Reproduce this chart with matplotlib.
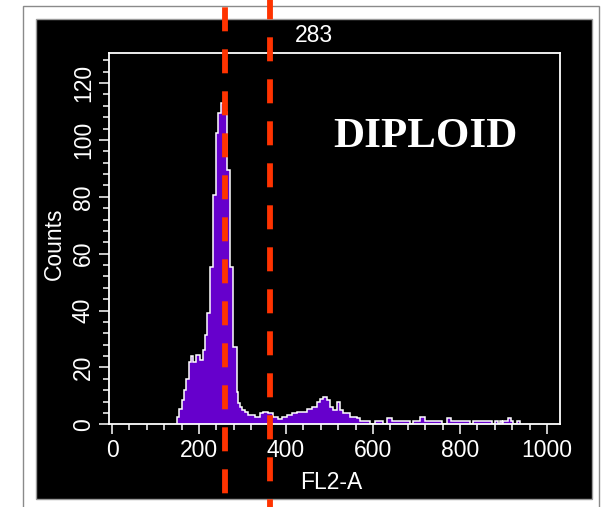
import matplotlib
matplotlib.use("Agg")
import matplotlib.pyplot as plt
from matplotlib.patches import Rectangle
from matplotlib.ticker import MultipleLocator

# ---- data ----
fl2_edges = [150, 155, 160, 166, 171, 176, 181, 187, 193, 202,
             209, 214, 218, 225, 233, 238, 244, 250, 258, 265,
             271, 279, 287, 290, 294, 298, 306, 313, 329, 340,
             348, 359, 371, 382, 390, 402, 413, 425, 436, 448,
             459, 471, 478, 486, 494, 501, 509, 517, 524, 532,
             547, 563, 570, 593, 605, 624, 632, 643, 686, 693,
             709, 720, 758, 770, 780, 823, 831, 873, 881, 888,
             892, 896, 900, 910, 918, 923, 931, 938]
counts = [2.5, 5.5, 8.5, 12, 16, 22, 24, 22, 24.5, 22.5,
          26, 31.4, 39, 55.5, 80.7, 102.5, 109.5, 113, 110, 89.5,
          55.5, 27.3, 11.5, 7.5, 6.2, 5, 4.4, 3.3, 2.7, 4,
          4.4, 4, 2.7, 1.8, 2.7, 3.3, 4, 4.4, 4.2, 5.3,
          6.2, 7.9, 9, 9.6, 8.5, 6.2, 5, 8, 5, 4,
          2.7, 2.2, 1.3, 0, 1, 0, 2.2, 1.3, 0, 1.3,
          2.5, 1.3, 0, 2.2, 1.3, 0, 1.3, 0, 1.3, 0,
          1.3, 0, 1.3, 2.2, 1.3, 0, 1.3]
gate_lines = [259, 363]
x_ticks = [0, 200, 400, 600, 800, 1000]
y_ticks = [0, 20, 40, 60, 80, 100, 120]
title_text = "283"
label_text = "DIPLOID"
x_label = "FL2-A"
y_label = "Counts"

W, H = 605, 507
plt.rcParams['lines.scale_dashes'] = False
plt.rcParams['font.family'] = ['Liberation Sans', 'DejaVu Sans']

fig = plt.figure(figsize=(W / 100, H / 100), dpi=100)
fig.patch.set_facecolor('white')

def px_rect(x0, y0, x1, y1, **kw):
    r = Rectangle((x0 / W, 1 - y1 / H), (x1 - x0) / W, (y1 - y0) / H,
                  transform=fig.transFigure, **kw)
    fig.add_artist(r)

# outer frame and black panel
px_rect(23, 6, 599, 520, facecolor='white', edgecolor='#8a8a8a', lw=1.0, zorder=0)
px_rect(36, 19, 592, 499, facecolor='black', edgecolor='#9a9a9a', lw=1.0, zorder=0.5)

ax_l, ax_r, ax_t, ax_b = 109, 560, 52.7, 424.3
ax = fig.add_axes([ax_l / W, 1 - ax_b / H, (ax_r - ax_l) / W, (ax_b - ax_t) / H])
ax.set_facecolor('black')
ax.set_zorder(1)

ax.stairs(counts, fl2_edges, fill=True, color='#6600CC', zorder=2)
ax.stairs(counts, fl2_edges, color='white', lw=1.1, zorder=3)

ax.set_xlim(-6.9, 1030)
ax.set_ylim(0, 130.7)
ax.set_xticks(x_ticks)
ax.set_yticks(y_ticks)
ax.xaxis.set_minor_locator(MultipleLocator(40))
ax.yaxis.set_minor_locator(MultipleLocator(4))
ax.set_yticklabels([str(v) for v in y_ticks], rotation=90, va='center')

for s in ax.spines.values():
    s.set_color('white')
    s.set_linewidth(1.3)

ax.tick_params(which='major', length=7.2, width=1.1, color='white',
               labelcolor='white', labelsize=16.5, direction='out')
ax.tick_params(which='minor', length=4.3, width=1.1, color='white', direction='out')
ax.tick_params(axis='x', which='major', pad=3.2)
ax.tick_params(axis='y', which='major', pad=3.0)

ax.set_xlabel(x_label, color='white', fontsize=16.5, va='center', ha='center')
ax.xaxis.set_label_coords((331 - ax_l) / (ax_r - ax_l), (ax_b - 482.5) / (ax_b - ax_t))
ax.set_ylabel(y_label, color='white', fontsize=16.5, va='center', ha='center')
ax.yaxis.set_label_coords((54 - ax_l) / (ax_r - ax_l), (ax_b - 244) / (ax_b - ax_t))

fig.text(314 / W, 1 - 35 / H, title_text, color='white', fontsize=16.5,
         ha='center', va='center')
fig.text(333 / W, 1 - 147 / H, label_text, color='white', fontsize=31,
         family='Liberation Serif', weight='bold', ha='left', va='baseline', zorder=5)

# dashed gate lines spanning the whole picture height
top_frac = ax_b / (ax_b - ax_t)
bot_frac = (ax_b - H) / (ax_b - ax_t)
offsets_px = [34.7, 4.7]
for xv, off in zip(gate_lines, offsets_px):
    ax.axvline(xv, ymin=top_frac, ymax=bot_frac, clip_on=False, color='#FF3300',
               lw=4.2, linestyle=(off * 0.72, (24 * 0.72, 18 * 0.72)),
               solid_capstyle='butt', dash_capstyle='butt', zorder=10)

fig.savefig('out.png', dpi=100, facecolor=fig.get_facecolor())
